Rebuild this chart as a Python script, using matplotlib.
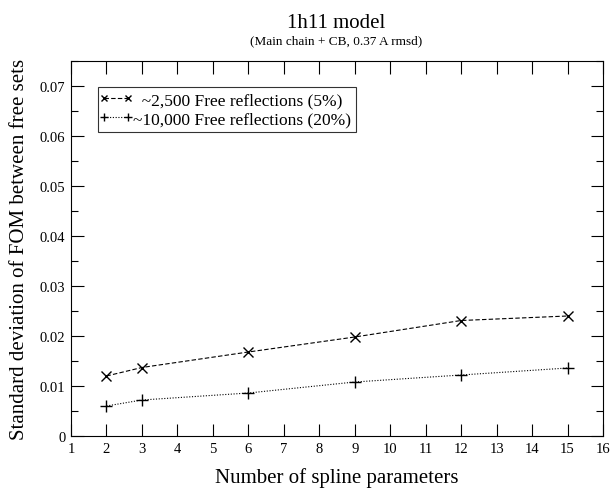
import matplotlib.pyplot as plt
from matplotlib.lines import Line2D
from matplotlib.legend_handler import HandlerLine2D
from matplotlib.ticker import MultipleLocator

plt.rcParams['font.family'] = ['Liberation Serif', 'DejaVu Serif']

params = [2, 3, 6, 9, 12, 15]
sd_5pct = [0.0120, 0.0137, 0.0168, 0.0198, 0.0231, 0.0240]
sd_20pct = [0.0060, 0.0072, 0.0086, 0.0108, 0.0122, 0.0136]
labels = ['  ~2,500 Free reflections (5%)', '~10,000 Free reflections (20%)']

fig = plt.figure(figsize=(6.16, 4.89), dpi=100)
ax = fig.add_axes([71/616, 1 - 437/489, (603-71)/616, (437-62)/489])

ax.plot(params, sd_5pct, color='black', ls=(0, (4, 2)), lw=0.8,
        marker='x', ms=7, mew=1.0, label=labels[0])
ax.plot(params, sd_20pct, color='black', ls=(0, (1, 1.5)), lw=0.8,
        marker='+', ms=8, mew=1.0, label=labels[1])

ax.set_xlim(1, 16)
ax.set_ylim(0, 0.075)
ax.xaxis.set_major_locator(MultipleLocator(1))
ax.yaxis.set_major_locator(MultipleLocator(0.01))
ax.yaxis.set_minor_locator(MultipleLocator(0.005))
ax.yaxis.set_major_formatter(plt.FuncFormatter(lambda v, p: '0' if v == 0 else f'{v:.2f}'))
ax.tick_params(which='both', direction='in', top=True, right=True, labelsize=10.5,
               width=0.8, pad=4)
ax.tick_params(which='major', length=9)
ax.tick_params(which='minor', length=5)
for s in ax.spines.values():
    s.set_linewidth(0.8)

ax.set_xlabel('Number of spline parameters', fontsize=15, labelpad=9)
ax.set_ylabel('Standard deviation of FOM between free sets', fontsize=15, labelpad=8)

fig.text(336/616, 1 - 23/489, '1h11 model', ha='center', va='center', fontsize=15)
fig.text(336/616, 1 - 41/489, '(Main chain + CB, 0.37 A rmsd)', ha='center', va='center',
         fontsize=9.5)

leg = ax.legend(loc='upper left', bbox_to_anchor=(27/532, 1 - 26/375), fontsize=12.5,
                frameon=True, fancybox=False, handlelength=1.45, handletextpad=0.25,
                borderpad=0.3, labelspacing=0.15, borderaxespad=0, markerscale=0.7,
                handler_map={Line2D: HandlerLine2D(marker_pad=0.05, numpoints=2)})
leg.get_frame().set_edgecolor('black')
leg.get_frame().set_linewidth(0.8)

fig.savefig('out.png', dpi=100)
